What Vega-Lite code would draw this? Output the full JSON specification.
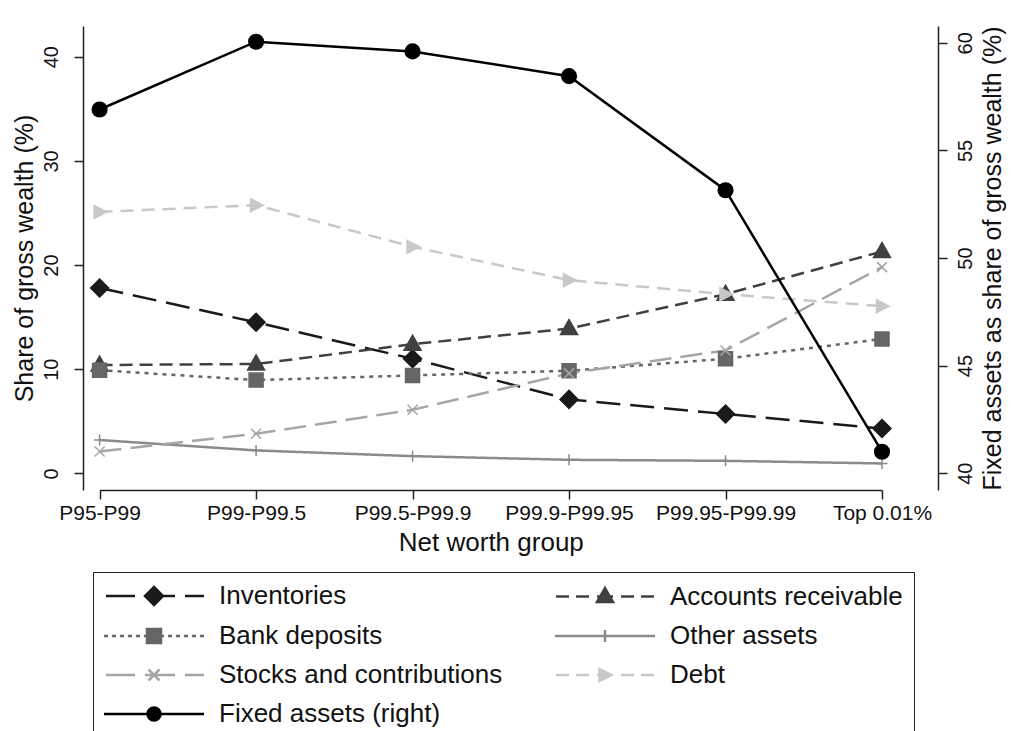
{
  "$schema": "https://vega.github.io/schema/vega-lite/v6.json",
  "width": 855,
  "height": 464,
  "autosize": {"type": "none"},
  "padding": {"left": 83, "top": 26, "right": 73, "bottom": 241},
  "background": "white",
  "config": {
    "font": "Liberation Sans",
    "view": {"stroke": null},
    "axis": {
      "grid": false,
      "domainColor": "#222222",
      "domainWidth": 1.5,
      "tickColor": "#222222",
      "tickWidth": 1.5,
      "tickSize": 9,
      "labelColor": "#111111",
      "titleColor": "#111111",
      "labelFont": "Liberation Sans",
      "titleFont": "Liberation Sans",
      "titleFontWeight": "normal",
      "titleFontSize": 25
    }
  },
  "datasets": {
    "main": [
      {"group": "P95-P99", "series": "Inventories", "value": 17.8},
      {"group": "P99-P99.5", "series": "Inventories", "value": 14.5},
      {"group": "P99.5-P99.9", "series": "Inventories", "value": 11.0},
      {"group": "P99.9-P99.95", "series": "Inventories", "value": 7.1},
      {"group": "P99.95-P99.99", "series": "Inventories", "value": 5.7},
      {"group": "Top 0.01%", "series": "Inventories", "value": 4.3},
      {"group": "P95-P99", "series": "Accounts receivable", "value": 10.4},
      {"group": "P99-P99.5", "series": "Accounts receivable", "value": 10.5},
      {"group": "P99.5-P99.9", "series": "Accounts receivable", "value": 12.4},
      {"group": "P99.9-P99.95", "series": "Accounts receivable", "value": 13.9},
      {"group": "P99.95-P99.99", "series": "Accounts receivable", "value": 17.2},
      {"group": "Top 0.01%", "series": "Accounts receivable", "value": 21.3},
      {"group": "P95-P99", "series": "Bank deposits", "value": 9.9},
      {"group": "P99-P99.5", "series": "Bank deposits", "value": 8.95},
      {"group": "P99.5-P99.9", "series": "Bank deposits", "value": 9.4},
      {"group": "P99.9-P99.95", "series": "Bank deposits", "value": 9.85},
      {"group": "P99.95-P99.99", "series": "Bank deposits", "value": 11.0},
      {"group": "Top 0.01%", "series": "Bank deposits", "value": 12.9},
      {"group": "P95-P99", "series": "Other assets", "value": 3.2},
      {"group": "P99-P99.5", "series": "Other assets", "value": 2.2},
      {"group": "P99.5-P99.9", "series": "Other assets", "value": 1.65},
      {"group": "P99.9-P99.95", "series": "Other assets", "value": 1.3},
      {"group": "P99.95-P99.99", "series": "Other assets", "value": 1.2},
      {"group": "Top 0.01%", "series": "Other assets", "value": 0.95},
      {"group": "P95-P99", "series": "Stocks and contributions", "value": 2.1},
      {"group": "P99-P99.5", "series": "Stocks and contributions", "value": 3.8},
      {"group": "P99.5-P99.9", "series": "Stocks and contributions", "value": 6.1},
      {"group": "P99.9-P99.95", "series": "Stocks and contributions", "value": 9.6},
      {"group": "P99.95-P99.99", "series": "Stocks and contributions", "value": 11.8},
      {"group": "Top 0.01%", "series": "Stocks and contributions", "value": 19.8},
      {"group": "P95-P99", "series": "Debt", "value": 25.1},
      {"group": "P99-P99.5", "series": "Debt", "value": 25.75},
      {"group": "P99.5-P99.9", "series": "Debt", "value": 21.75},
      {"group": "P99.9-P99.95", "series": "Debt", "value": 18.55},
      {"group": "P99.95-P99.99", "series": "Debt", "value": 17.2},
      {"group": "Top 0.01%", "series": "Debt", "value": 16.05},
      {"group": "P95-P99", "series": "Fixed assets (right)", "value": 56.9},
      {"group": "P99-P99.5", "series": "Fixed assets (right)", "value": 60.05},
      {"group": "P99.5-P99.9", "series": "Fixed assets (right)", "value": 59.6},
      {"group": "P99.9-P99.95", "series": "Fixed assets (right)", "value": 58.45},
      {"group": "P99.95-P99.99", "series": "Fixed assets (right)", "value": 53.15},
      {"group": "Top 0.01%", "series": "Fixed assets (right)", "value": 41.0}
    ]
  },
  "data": {"name": "main"},
  "encoding": {
    "x": {
      "field": "group",
      "type": "nominal",
      "sort": null,
      "scale": {
        "type": "point",
        "padding": 0,
        "domain": ["P95-P99", "P99-P99.5", "P99.5-P99.9", "P99.9-P99.95", "P99.95-P99.99", "Top 0.01%"],
        "range": [16.6, 799]
      },
      "axis": {
        "title": "Net worth group",
        "labelAngle": 0,
        "labelFontSize": 21,
        "labelPadding": 3,
        "titlePadding": 6,
        "titleFontSize": 26
      }
    }
  },
  "layer": [
    {
      "transform": [{"filter": "datum.series !== 'Fixed assets (right)'"}],
      "encoding": {
        "y": {
          "field": "value",
          "type": "quantitative",
          "scale": {"domain": [-1.6, 42.95], "nice": false, "zero": false},
          "axis": {
            "title": "Share of gross wealth (%)",
            "values": [0, 10, 20, 30, 40],
            "labelAngle": 270,
            "labelAlign": "center",
            "labelBaseline": "bottom",
            "labelFontSize": 20,
            "labelPadding": 13,
            "titlePadding": 4
          }
        }
      },
      "layer": [
        {
          "mark": {"type": "line", "strokeWidth": 2.5},
          "encoding": {
            "order": {"value": null},
            "stroke": {
              "field": "series",
              "type": "nominal",
              "legend": null,
              "scale": {
                "domain": ["Inventories", "Accounts receivable", "Bank deposits", "Other assets", "Stocks and contributions", "Debt"],
                "range": ["#1a1a1a", "#404040", "#666666", "#8a8a8a", "#a6a6a6", "#c8c8c8"]
              }
            },
            "strokeDash": {
              "field": "series",
              "type": "nominal",
              "legend": null,
              "scale": {
                "domain": ["Inventories", "Accounts receivable", "Bank deposits", "Other assets", "Stocks and contributions", "Debt"],
                "range": [[24, 10], [13, 7], [4, 5], [1, 0], [22, 9], [13, 8]]
              }
            }
          }
        },
        {
          "mark": {"type": "point", "filled": true, "opacity": 1, "size": 100, "strokeWidth": 1.5},
          "encoding": {
            "shape": {
              "field": "series",
              "type": "nominal",
              "legend": null,
              "scale": {
                "domain": ["Inventories", "Accounts receivable", "Bank deposits", "Other assets", "Stocks and contributions", "Debt"],
                "range": [
                  "M0,-1.8L1.8,0L0,1.8L-1.8,0Z",
                  "M0,-1.8L1.7,1.2L-1.7,1.2Z",
                  "M-1.4,-1.4H1.4V1.4H-1.4Z",
                  "M-1.1,0H1.1M0,-1.1V1.1",
                  "M-1,-1L1,1M-1,1L1,-1",
                  "M-1.1,-1.3L1.4,0L-1.1,1.3Z"
                ]
              }
            },
            "fill": {
              "field": "series",
              "type": "nominal",
              "legend": null,
              "scale": {
                "domain": ["Inventories", "Accounts receivable", "Bank deposits", "Other assets", "Stocks and contributions", "Debt"],
                "range": ["#1a1a1a", "#404040", "#666666", "#8a8a8a", "#a6a6a6", "#c8c8c8"]
              }
            },
            "stroke": {
              "field": "series",
              "type": "nominal",
              "legend": null,
              "scale": {
                "domain": ["Inventories", "Accounts receivable", "Bank deposits", "Other assets", "Stocks and contributions", "Debt"],
                "range": ["#1a1a1a", "#404040", "#666666", "#8a8a8a", "#a6a6a6", "#c8c8c8"]
              }
            }
          }
        }
      ]
    },
    {
      "layer": [
        {
          "transform": [{"filter": "datum.series === 'Fixed assets (right)'"}],
          "mark": {"type": "line", "color": "#000000", "strokeWidth": 2.5},
          "encoding": {
            "order": {"value": null},
            "y": {
              "field": "value",
              "type": "quantitative",
              "scale": {"domain": [39.22, 60.78], "nice": false, "zero": false},
              "axis": {
                "orient": "right",
                "title": "Fixed assets as share of gross wealth (%)",
                "values": [40, 45, 50, 55, 60],
                "labelAngle": 270,
                "labelAlign": "center",
                "labelBaseline": "top",
                "labelFontSize": 20,
                "labelPadding": 8,
                "titleAngle": 270,
                "titleBaseline": "top",
                "titlePadding": 5
              }
            }
          }
        },
        {
          "transform": [{"filter": "datum.series === 'Fixed assets (right)'"}],
          "mark": {"type": "point", "shape": "circle", "filled": true, "color": "#000000", "opacity": 1, "size": 260},
          "encoding": {
            "y": {"field": "value", "type": "quantitative"}
          }
        },
        {
          "transform": [{"filter": "false"}],
          "mark": {"type": "point", "filled": true, "opacity": 1, "size": 100, "strokeWidth": 2.5},
          "encoding": {
            "x": null,
            "shape": {
              "field": "series",
              "type": "nominal",
              "title": null,
              "scale": {
                "domain": ["Inventories", "Accounts receivable", "Bank deposits", "Other assets", "Stocks and contributions", "Debt", "Fixed assets (right)"],
                "range": [
                  "M-9.6,0H-3.8M1.8,0H4.2M6.2,0H10M0,-1.8L1.8,0L0,1.8L-1.8,0Z",
                  "M-9.8,0H-7.2M-5.8,0H-3.2M-1.6,0H1.6M3.2,0H5.8M7.2,0H9.8M0,-1.7L1.6,1.1L-1.6,1.1Z",
                  "M-10,0H-9.2M-8.4,0H-7.6M-6.8,0H-6M-5.2,0H-4.4M-3.6,0H-2.8M-2,0H-1.4M1.4,0H2M2.8,0H3.6M4.4,0H5.2M6,0H6.8M7.6,0H8.4M9.2,0H10M-1.4,-1.4H1.4V1.4H-1.4Z",
                  "M-10,0H10M0,-1.2V1.2",
                  "M-9.6,0H-3.8M-1.8,0H4.2M6.2,0H10M-1.1,-1.1L1.1,1.1M-1.1,1.1L1.1,-1.1",
                  "M-9.8,0H-7.2M-5.8,0H-3.2M-1.6,0H1.6M3.2,0H5.8M7.2,0H9.8M-1.1,-1.2L1.3,0L-1.1,1.2Z",
                  "M-10,0H10M-1.3,0A1.3,1.3 0 1,0 1.3,0A1.3,1.3 0 1,0 -1.3,0Z"
                ]
              },
              "legend": {
                "title": null,
                "orient": "none",
                "direction": "horizontal",
                "legendX": 10,
                "legendY": 546,
                "columns": 2,
                "columnPadding": 47,
                "rowPadding": 13,
                "padding": 11,
                "strokeColor": "#222222",
                "fillColor": "white",
                "labelFont": "Liberation Sans",
                "labelFontSize": 26,
                "labelColor": "#111111",
                "labelLimit": 400,
                "labelOffset": 52,
                "symbolOffset": 37,
                "symbolSize": 100,
                "symbolStrokeWidth": 2.5,
                "symbolOpacity": 1
              }
            },
            "fill": {
              "field": "series",
              "type": "nominal",
              "title": null,
              "scale": {
                "domain": ["Inventories", "Accounts receivable", "Bank deposits", "Other assets", "Stocks and contributions", "Debt", "Fixed assets (right)"],
                "range": ["#1a1a1a", "#404040", "#666666", "#8a8a8a", "#a6a6a6", "#c8c8c8", "#000000"]
              },
              "legend": {
                "title": null,
                "orient": "none",
                "direction": "horizontal",
                "legendX": 10,
                "legendY": 546,
                "columns": 2
              }
            },
            "stroke": {
              "field": "series",
              "type": "nominal",
              "title": null,
              "scale": {
                "domain": ["Inventories", "Accounts receivable", "Bank deposits", "Other assets", "Stocks and contributions", "Debt", "Fixed assets (right)"],
                "range": ["#1a1a1a", "#404040", "#666666", "#8a8a8a", "#a6a6a6", "#c8c8c8", "#000000"]
              },
              "legend": {
                "title": null,
                "orient": "none",
                "direction": "horizontal",
                "legendX": 10,
                "legendY": 546,
                "columns": 2
              }
            }
          }
        }
      ]
    }
  ],
  "resolve": {
    "scale": {"y": "independent", "shape": "independent", "fill": "independent", "stroke": "independent", "strokeDash": "independent"}
  }
}
